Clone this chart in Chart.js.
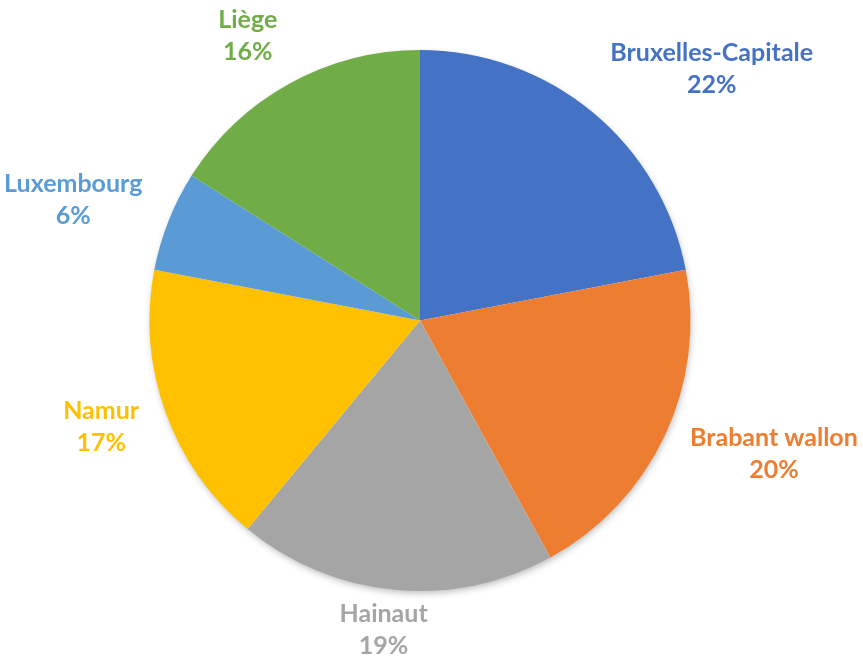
<!DOCTYPE html>
<html>
<head>
<meta charset="utf-8">
<script src="https://cdn.jsdelivr.net/npm/chart.js@4/dist/chart.umd.min.js"></script>
<style>
  html, body { margin: 0; padding: 0; background: #fff; }
  #wrap { width: 863px; height: 659px; position: relative; }
</style>
</head>
<body>
<div id="wrap"><canvas id="c"></canvas></div>
<script>
// Provinces, clockwise from 12 o'clock
const labels = ['Bruxelles-Capitale', 'Brabant wallon', 'Hainaut', 'Namur', 'Luxembourg', 'Liège'];
const shares = [22, 20, 19, 17, 6, 16];
const colors = ['#4472C4', '#ED7D31', '#A5A5A5', '#FFC000', '#5B9BD5', '#70AD47'];

const FONT = 'bold 25px Lato, "Open Sans", sans-serif';
const LINE_H = 32;

// soft shadow under the whole pie, drawn from the first arc's geometry
const pieShadow = {
  id: 'pieShadow',
  beforeDatasetsDraw(chart) {
    const arc = chart.getDatasetMeta(0).data[0];
    if (!arc) return;
    const ctx = chart.ctx;
    ctx.save();
    ctx.shadowColor = 'rgba(0,0,0,0.28)';
    ctx.shadowBlur = 7;
    ctx.shadowOffsetX = 1;
    ctx.shadowOffsetY = 3;
    ctx.fillStyle = '#fff';
    ctx.beginPath();
    ctx.arc(arc.x, arc.y, arc.outerRadius - 1, 0, Math.PI * 2);
    ctx.fill();
    ctx.restore();
  }
};

// Excel-style "outside end" labels: name + percent, in slice colour
const outsideLabels = {
  id: 'outsideLabels',
  afterDatasetsDraw(chart) {
    const ctx = chart.ctx;
    const meta = chart.getDatasetMeta(0);
    const total = shares.reduce((a, b) => a + b, 0);
    const clamp = v => Math.max(-1, Math.min(1, v));
    ctx.save();
    ctx.font = FONT;
    ctx.textAlign = 'center';
    ctx.textBaseline = 'middle';
    meta.data.forEach((arc, i) => {
      const mid = (arc.startAngle + arc.endAngle) / 2;
      const dx = Math.cos(mid), dy = Math.sin(mid);
      const ax = arc.x + dx * (arc.outerRadius + 28);
      const ay = arc.y + dy * (arc.outerRadius + 20);
      const pct = Math.round(shares[i] / total * 100) + '%';
      const w = Math.max(ctx.measureText(labels[i]).width, ctx.measureText(pct).width);
      // labels below the centre sit a bit closer to the rim
      const halfH = dy > 0 ? 20 : 30;
      const cx = ax + clamp(dx * 2) * w / 2;
      const cy = ay + clamp(dy * 1.2) * halfH;
      ctx.fillStyle = colors[i];
      ctx.fillText(labels[i], cx, cy - LINE_H / 2);
      ctx.fillText(pct, cx, cy + LINE_H / 2);
    });
    ctx.restore();
  }
};

new Chart(document.getElementById('c'), {
  type: 'pie',
  data: {
    labels,
    datasets: [{
      data: shares,
      backgroundColor: colors,
      borderWidth: 0,
      hoverOffset: 0
    }]
  },
  options: {
    responsive: true,
    maintainAspectRatio: false,
    animation: false,
    layout: { padding: { top: 50, bottom: 68, left: 0, right: 23 } },
    plugins: {
      legend: { display: false },
      tooltip: { enabled: false }
    }
  },
  plugins: [pieShadow, outsideLabels]
});
</script>
</body>
</html>
